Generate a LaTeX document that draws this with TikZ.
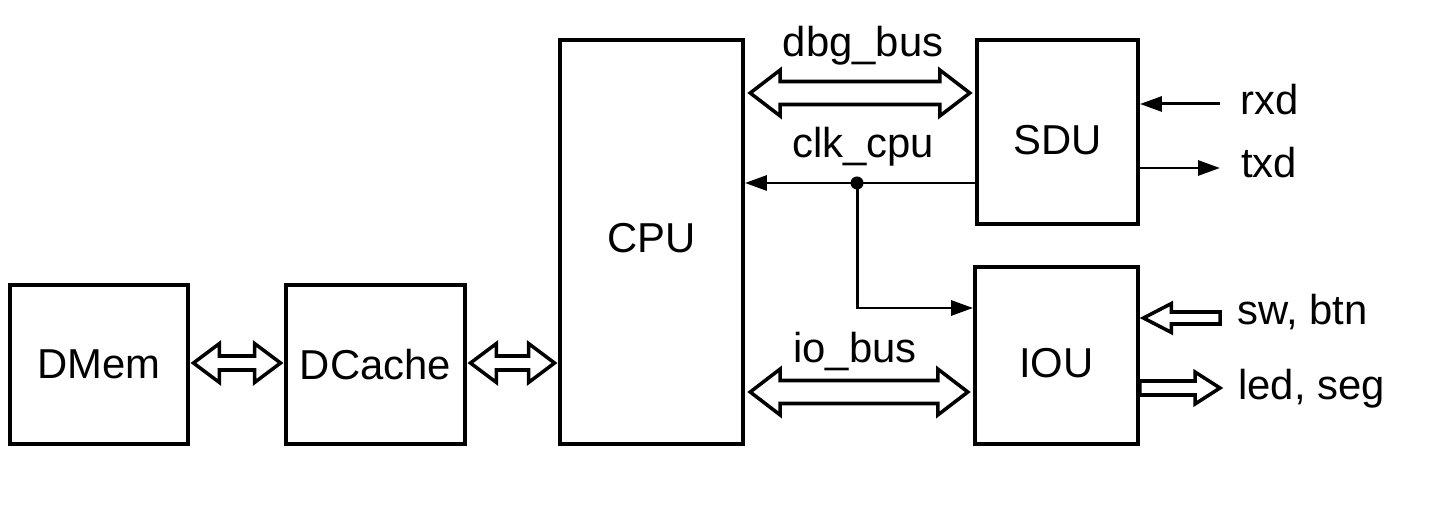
\documentclass[tikz,border=0pt]{standalone}
\usepackage{fontspec}
\setmainfont{Liberation Sans}
\usetikzlibrary{arrows.meta,calc}
\tikzset{
  unit/.style={draw, line width=2.2pt, inner sep=0pt, font=\fontsize{23.8}{28}\selectfont},
  lbl/.style={inner sep=0pt, font=\fontsize{23.8}{28}\selectfont},
  wire/.style={line width=1.7pt, -{Triangle[length=0.44cm,width=0.3cm]}},
  busarrow/.style n args={3}{line width=2pt, line join=miter, to path={
    let \p1=(\tikztostart), \p2=(\tikztotarget),
        \p3=($(\p1)!#1!(\p2)$), \p4=($(\p2)!#1!(\p1)$) in
    (\p1) -- (\x3,\y1+#2) -- (\x3,\y1+#3) -- (\x4,\y1+#3) -- (\x4,\y1+#2) -- (\p2)
    -- (\x4,\y1-#2) -- (\x4,\y1-#3) -- (\x3,\y1-#3) -- (\x3,\y1-#2) -- cycle}},
  padarrow/.style n args={3}{line width=2pt, line join=miter, to path={
    let \p1=(\tikztostart), \p2=(\tikztotarget), \p4=($(\p2)!#1!(\p1)$) in
    (\x1,\y1+#3) -- (\x4,\y1+#3) -- (\x4,\y1+#2) -- (\p2)
    -- (\x4,\y1-#2) -- (\x4,\y1-#3) -- (\x1,\y1-#3) -- cycle}}
}
\begin{document}
\begin{tikzpicture}
\useasboundingbox (0,0) rectangle (28.74,10.22);

\node[unit, minimum width=3.56cm, minimum height=3.18cm] (dmem) at (1.98,2.93) {DMem};
\node[unit, minimum width=3.58cm, minimum height=3.18cm] (dcache) at (7.51,2.93) {DCache};
\node[unit, minimum width=3.66cm, minimum height=8.08cm, text depth=0.16cm] (cpu) at (13.03,5.38) {CPU};
\node[unit, minimum width=3.22cm, minimum height=3.68cm, text height=0.92cm, text depth=0pt] (sdu) at (21.15,7.58) {SDU};
\node[unit, minimum width=3.26cm, minimum height=3.54cm, text height=0.88cm, text depth=0pt] (iou) at (21.13,3.11) {IOU};

\draw[busarrow={0.52cm}{0.39cm}{0.14cm}] ([xshift=2pt]dmem.east |- 0,2.96) to ([xshift=-2pt]dcache.west |- 0,2.96);
\draw[busarrow={0.52cm}{0.39cm}{0.14cm}] ([xshift=2pt]dcache.east |- 0,2.96) to ([xshift=-2pt]cpu.west |- 0,2.96);
\draw[busarrow={0.6cm}{0.46cm}{0.23cm}] ([xshift=3pt]cpu.east |- 0,8.36) to ([xshift=-3pt]sdu.west |- 0,8.36);
\draw[busarrow={0.6cm}{0.46cm}{0.23cm}] ([xshift=3pt]cpu.east |- 0,2.38) to ([xshift=-3pt]iou.west |- 0,2.38);
\draw[padarrow={0.56cm}{0.29cm}{0.12cm}] (24.4,3.86) to ([xshift=2pt]iou.east |- 0,3.86);
\draw[padarrow={0.5cm}{0.32cm}{0.14cm}] (iou.east |- 0,2.46) to (24.4,2.46);

\node[lbl, anchor=base] (dbg) at (17.26,9.08) {dbg\_bus};
\node[lbl, anchor=base] (clk) at (17.26,7.06) {clk\_cpu};
\node[lbl, anchor=base] (io) at (17.1,2.96) {io\_bus};
\node[lbl, anchor=base west] (rxd) at (24.8,7.92) {rxd};
\node[lbl, anchor=base west] (txd) at (24.82,6.66) {txd};
\node[lbl, anchor=base west] (swbtn) at (24.74,3.72) {sw, btn};
\node[lbl, anchor=base west] (ledseg) at (24.76,2.22) {led, seg};

\coordinate (tap) at (17.14,6.56);
\draw[wire] (sdu.west |- tap) -- (cpu.east |- tap);
\draw[wire] (tap) |- (iou.west |- 0,4.06);
\fill (tap) circle (0.13cm);
\draw[wire] (24.4,8.14) -- (sdu.east |- 0,8.14);
\draw[wire] (sdu.east |- 0,6.86) -- (24.4,6.86);
\end{tikzpicture}
\end{document}
